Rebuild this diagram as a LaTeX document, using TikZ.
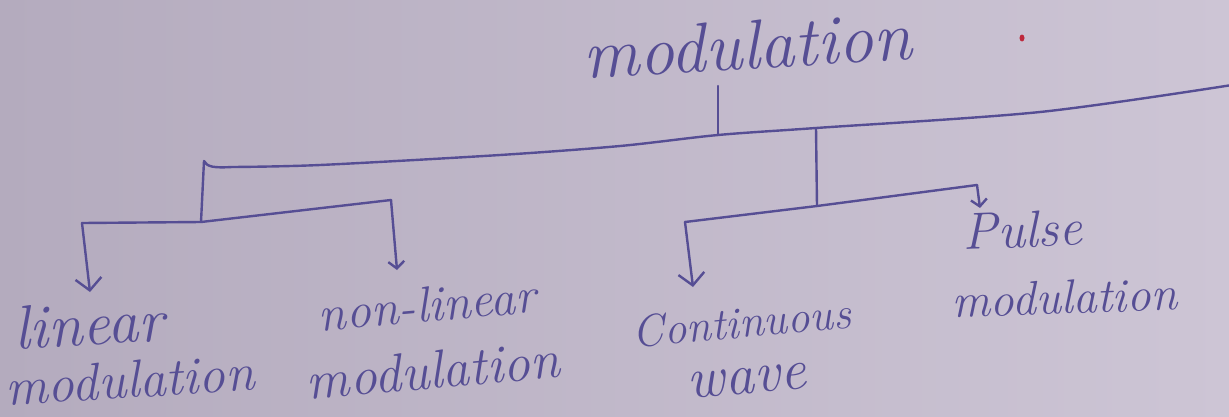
\documentclass[tikz,border=0pt]{standalone}
\usetikzlibrary{arrows.meta}
\definecolor{ink}{RGB}{86,78,148}
\definecolor{paperL}{RGB}{180,171,190}
\definecolor{paperR}{RGB}{205,197,213}
\definecolor{redmark}{RGB}{190,40,60}
\newcommand\hwsize[2]{{\fontsize{#1}{#1}\selectfont #2}}
\begin{document}
\begin{tikzpicture}[x=1pt,y=-1pt,
  pen/.style={draw=ink,line width=2.4pt,line cap=round,line join=round},
  arr/.style={pen,-{Straight Barb[length=12pt,width=26pt]}},
  sarr/.style={pen,-{Straight Barb[length=7pt,width=16pt]}},
  hand/.style={text=ink,inner sep=0pt,outer sep=0pt},
]
\shade[left color=paperL,right color=paperR] (0,0) rectangle (1229,416);
\useasboundingbox (0,0) rectangle (1229,416);

% labels
\node[hand,rotate=3.3,font=\itshape\fontsize{70}{70}\selectfont] (root) at (747,45) {modulation};
\node[hand,align=left,rotate=3.5,font=\itshape\fontsize{53}{55}\selectfont] (lin) at (128,349)
  {\hspace*{12pt}\hwsize{62}{linear}\\modulation};
\node[hand,align=center,rotate=5,font=\itshape\fontsize{50}{67}\selectfont] (nonlin) at (430,338)
  {non-linear\\\hwsize{54}{modulation}};
\node[hand,align=center,rotate=5,font=\itshape\fontsize{45}{56}\selectfont] (cw) at (744,350)
  {Continuous\\\hwsize{58}{wave}};
\node[hand,align=left,rotate=2,font=\itshape\fontsize{48}{68}\selectfont] (pulse) at (1063,262)
  {\hspace*{14pt}\hwsize{52}{Pulse}\\modulation};

% junction coordinates
\coordinate (rt) at (718,86);
\coordinate (j0) at (718,135);
\coordinate (ml) at (204,161);
\coordinate (jr) at (816,128);
\coordinate (me) at (1232,85);
\coordinate (jl) at (201,222);
\coordinate (lc) at (82,223);
\coordinate (lr) at (391,200);
\coordinate (la) at (90,292);
\coordinate (na) at (397,270);
\coordinate (jr2) at (817,206);
\coordinate (rc) at (685,222);
\coordinate (rr) at (977,185);
\coordinate (ca) at (693,287);
\coordinate (pa) at (980,208);

% connectors
\draw[pen] (rt) -- (j0);
\draw[pen] (jl) -- (ml) .. controls (207,167) and (214,168) .. (232,167)
  -- plot[smooth] coordinates {(232,167) (320,165) (500,155) (620,146) (j0) (jr) (1040,112) (me)};
\draw[pen] (lc) -- (jl) -- (lr);
\draw[arr] (lc) -- (la);
\draw[sarr] (lr) -- (na);
\draw[pen] (jr) -- (jr2);
\draw[pen] (rc) -- (jr2) -- (rr);
\draw[arr] (rc) -- (ca);
\draw[sarr] (rr) -- (pa);
\fill[redmark] (1022,38) ellipse (2.5pt and 3.5pt);
\end{tikzpicture}
\end{document}
